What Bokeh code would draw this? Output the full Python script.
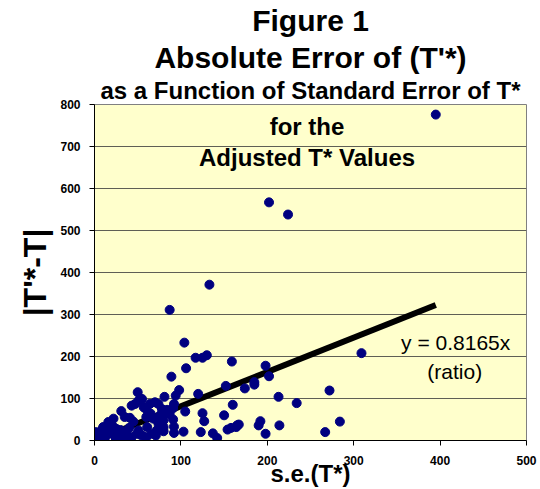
from bokeh.plotting import figure
from bokeh.models import Label, Range1d, FixedTicker, ColumnDataSource, Title
from bokeh.embed import file_html
from bokeh.resources import INLINE

# Standard error of T* (x) and absolute error |T'*-T| (y)
se = [395, 202, 224, 133, 87, 104, 117, 125, 130, 159, 106, 89, 198, 202, 185, 185,
      174, 152, 213, 309, 234, 272, 284, 267, 214, 192, 190, 198, 165, 167, 164, 160,
      150, 154, 158, 125, 127, 137, 142, 123, 120, 98, 94, 81, 92, 91, 87, 84, 105,
      91, 92, 92, 80, 103, 76, 80, 82, 78, 71, 53, 61, 74, 50, 55, 51, 43, 47, 64,
      70, 74, 57, 60, 31, 35, 41, 22, 19, 10, 8, 1, 3, 7, 16, 24, 32, 37, 51, 55,
      60, 66, 72, 80, 74, 68, 60, 65, 14, 18, 16, 20, 28, 36, 43, 49, 22, 1, 5, 12,
      30, 40, 45, 25]
abs_err = [776, 567, 538, 371, 311, 233, 197, 197, 203, 188, 172, 152, 178, 153, 139, 133,
           124, 130, 104, 208, 89, 119, 45, 20, 36, 46, 36, 16, 36, 38, 32, 85,
           60, 26, 30, 65, 46, 17, 6, 20, 111, 120, 107, 104, 87, 77, 63, 73, 69,
           50, 33, 18, 22, 21, 60, 48, 64, 75, 12, 14, 32, 40, 115, 99, 95, 83, 87, 87,
           91, 87, 79, 74, 70, 56, 54, 52, 40, 32, 24, 20, 8, 4, 16, 8, 12, 16, 24, 12,
           8, 16, 24, 32, 44, 52, 56, 64, 20, 24, 44, 36, 12, 4, 8, 16, 32, 0, 2, 6,
           25, 30, 45, 28]
slope = 0.8165
x_ticks = [0, 100, 200, 300, 400, 500]
y_ticks = [0, 100, 200, 300, 400, 500, 600, 700, 800]
title_lines = ["Figure 1", "Absolute Error of (T'*)", "as a Function of Standard Error of T*"]
inner_title = ["for the", "Adjusted T* Values"]
x_title = "s.e.(T*)"
y_title = "|T'*-T|"
eq_text = ["y = 0.8165x", "(ratio)"]

FONT = "Liberation Sans"

p = figure(width=540, height=489, output_backend="svg", toolbar_location=None,
           x_range=Range1d(0, 500), y_range=Range1d(0, 800), title=None,
           min_border_left=94, min_border_right=14, min_border_top=104,
           min_border_bottom=49)
p.background_fill_color = "#FFFFCC"
p.border_fill_color = "white"
p.outline_line_color = "#808080"
p.outline_line_width = 1

p.xgrid.visible = False
p.ygrid.grid_line_color = "#5f5f55"
p.ygrid.grid_line_width = 1
p.ygrid.ticker = FixedTicker(ticks=y_ticks)

for ax, ticks in ((p.xaxis, x_ticks), (p.yaxis, y_ticks)):
    ax.ticker = FixedTicker(ticks=ticks)
    ax.axis_line_color = "black"
    ax.axis_line_width = 1
    ax.major_tick_line_color = "black"
    ax.major_tick_in = 0
    ax.major_tick_out = 5
    ax.minor_tick_line_color = None
    ax.major_label_text_font = FONT
    ax.major_label_text_font_style = "bold"
    ax.major_label_text_font_size = "12px"
    ax.major_label_text_color = "black"
    ax.axis_label_text_font = FONT
    ax.axis_label_text_font_style = "bold"
    ax.axis_label_text_color = "black"
p.xaxis.major_label_standoff = 10
p.yaxis.major_label_standoff = 9
p.xaxis.axis_label = x_title
p.xaxis.axis_label_text_font_size = "24px"
p.xaxis.axis_label_standoff = -8
p.yaxis.axis_label = y_title
p.yaxis.axis_label_text_font_size = "32px"
p.yaxis.axis_label_standoff = 4

src = ColumnDataSource(data=dict(x=se, y=abs_err))
trend_x = [0, max(se)]
trend_y = [slope * v for v in trend_x]
p.line(trend_x, trend_y, line_color="black", line_width=6)
p.scatter("x", "y", source=src, size=9, fill_color="#000080", line_color="#000080")

# Titles above the frame (first added is closest to the frame)
for text, size, standoff in ((title_lines[2], "24px", 1),
                             (title_lines[1], "30px", 2),
                             (title_lines[0], "30px", 2)):
    p.add_layout(Title(text=text, align="center", text_font=FONT,
                       text_font_size=size, text_font_style="bold",
                       text_color="black", standoff=standoff, offset=-5), "above")

def lab(x, y, t, size, bold=True):
    p.add_layout(Label(x=x, y=y, text=t, text_font=FONT,
                       text_font_size=size, text_font_style="bold" if bold else "normal",
                       text_align="center", text_baseline="middle",
                       text_color="black"))

lab(246, 748, inner_title[0], "24px")
lab(246, 674, inner_title[1], "24px")
lab(418, 233, eq_text[0], "21px", bold=False)
lab(417, 164, eq_text[1], "21px", bold=False)

open("out.html", "w").write(file_html(p, INLINE))
